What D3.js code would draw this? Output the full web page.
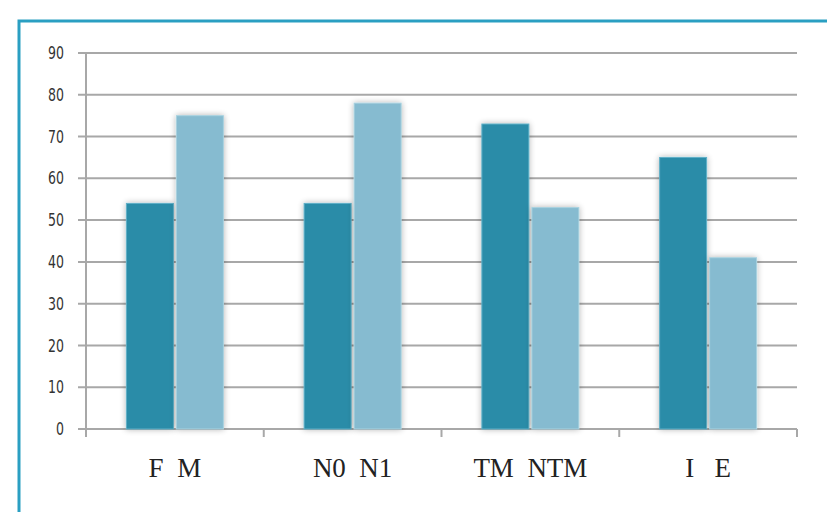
<!DOCTYPE html>
<html>
<head>
<meta charset="utf-8">
<script src="https://cdn.jsdelivr.net/npm/d3@7"></script>
<style>
  body { margin: 0; background: #fff; }
  svg { display: block; }
</style>
</head>
<body>
<div id="chart"></div>
<script>
(function () {

  // data
  var categories = ["F  M", "N0  N1", "TM  NTM", "I   E"];
  var firstValues = [54, 54, 73, 65];   // dark bars
  var secondValues = [75, 78, 53, 41];  // light bars
  var yTicks = [0, 10, 20, 30, 40, 50, 60, 70, 80, 90];

  var width = 827,
      height = 512;

  var svg = d3.select("#chart")
    .append("svg")
    .attr("width", width)
    .attr("height", height);

  // soft shadow behind the bars
  var defs = svg.append("defs");
  var f = defs.append("filter")
    .attr("id", "shadow")
    .attr("x", "-30%").attr("y", "-10%")
    .attr("width", "160%").attr("height", "120%");
  f.append("feGaussianBlur").attr("in", "SourceAlpha").attr("stdDeviation", 3);
  f.append("feComponentTransfer").append("feFuncA").attr("type", "linear").attr("slope", 0.3);
  var fm = f.append("feMerge");
  fm.append("feMergeNode");
  fm.append("feMergeNode").attr("in", "SourceGraphic");

  // frame
  svg.append("rect")
    .attr("x", 19).attr("y", 21)
    .attr("width", 830).attr("height", 520)
    .attr("fill", "none")
    .attr("stroke", "#2a9fc2")
    .attr("stroke-width", 3);

  var left = 86, right = 797, top = 53, bottom = 429;

  var y = d3.scaleLinear().domain([0, 90]).range([bottom, top]);
  var x = d3.scaleBand().domain(categories).range([left, right]);
  var inner = d3.scaleBand().domain([0, 1]).range([0, 97]).paddingInner(0.06);

  // gridlines
  svg.append("g")
    .selectAll("line")
    .data(yTicks)
    .enter().append("line")
    .attr("x1", left - 8)
    .attr("x2", right)
    .attr("y1", function (d) { return y(d); })
    .attr("y2", function (d) { return y(d); })
    .attr("stroke", "#a8a8a8")
    .attr("stroke-width", 2);

  // y axis line
  svg.append("line")
    .attr("x1", left).attr("x2", left)
    .attr("y1", top).attr("y2", bottom + 8)
    .attr("stroke", "#a8a8a8").attr("stroke-width", 2);

  // category ticks
  svg.append("g")
    .selectAll("line")
    .data(categories.slice(1).concat(["end"]))
    .enter().append("line")
    .attr("x1", function (d, i) { return left + x.bandwidth() * (i + 1); })
    .attr("x2", function (d, i) { return left + x.bandwidth() * (i + 1); })
    .attr("y1", bottom)
    .attr("y2", bottom + 8)
    .attr("stroke", "#a8a8a8")
    .attr("stroke-width", 2);

  // y labels, narrow and a bit taller like the original
  svg.append("g")
    .selectAll("text")
    .data(yTicks)
    .enter().append("text")
    .attr("transform", function (d) { return "translate(64," + y(d) + ") scale(0.82,1)"; })
    .attr("dy", "0.36em")
    .attr("text-anchor", "end")
    .attr("font-family", "'DejaVu Sans Condensed', 'DejaVu Sans', sans-serif")
    .attr("font-size", 17)
    .attr("fill", "#333")
    .text(function (d) { return d; });

  // bars
  var groups = svg.append("g")
    .selectAll("g")
    .data(categories)
    .enter().append("g")
    .attr("transform", function (d) {
      return "translate(" + (x(d) + x.bandwidth() / 2 - 48.5) + ",0)";
    });

  groups.selectAll("rect")
    .data(function (d, i) { return [firstValues[i], secondValues[i]]; })
    .enter().append("rect")
    .attr("x", function (d, i) { return inner(i); })
    .attr("y", function (d) { return y(d); })
    .attr("width", inner.bandwidth())
    .attr("height", function (d) { return bottom - y(d); })
    .attr("fill", function (d, i) { return i === 0 ? "#2a8ca8" : "#86bbd0"; })
    .attr("stroke", function (d, i) { return i === 0 ? "#5fb0c8" : "#a9d2e0"; })
    .attr("stroke-width", 1)
    .attr("filter", "url(#shadow)");

  // x labels
  svg.append("g")
    .selectAll("text")
    .data(categories)
    .enter().append("text")
    .attr("x", function (d) { return x(d) + x.bandwidth() / 2; })
    .attr("y", 477)
    .attr("text-anchor", "middle")
    .attr("font-family", "'Liberation Serif', 'Times New Roman', serif")
    .attr("font-size", 27)
    .attr("fill", "#222")
    .attr("xml:space", "preserve")
    .style("white-space", "pre")
    .text(function (d) { return d; });

})();
</script>
</body>
</html>
